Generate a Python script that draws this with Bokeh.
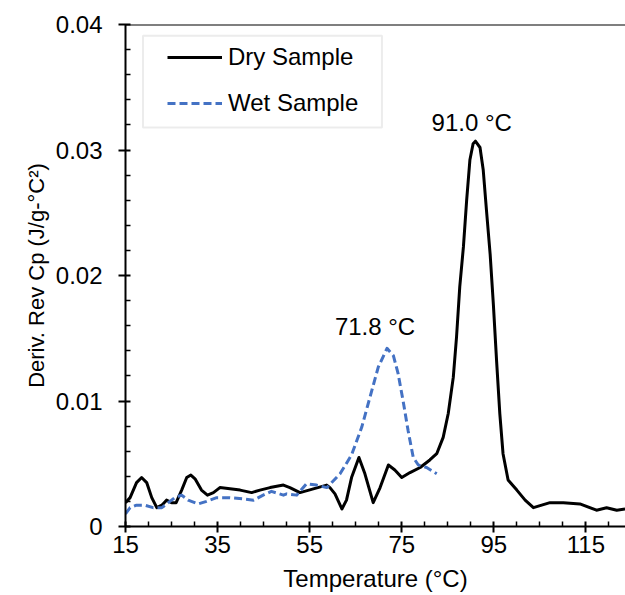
from bokeh.plotting import figure
from bokeh.models import (Legend, LegendItem, FixedTicker, CustomJSTickFormatter,
                          Span, BoxAnnotation, Range1d, Label)
from bokeh.embed import file_html
from bokeh.resources import INLINE

# ---- data ----
dry_temp = [15.0, 16.0, 17.4, 18.5, 19.6, 20.7, 21.8, 22.9, 23.9, 25.0, 26.0, 27.2, 28.3, 29.2,
            30.1, 31.5, 32.8, 34.1, 35.5, 37.7, 39.9, 42.4, 44.2, 46.4, 49.3, 50.7, 52.9, 55.8,
            58.7, 59.4, 60.5, 62.0, 63.0, 64.1, 65.7, 67.0, 68.8, 70.3, 72.1, 73.5, 75.0, 76.8,
            79.0, 81.1, 82.6, 84.0, 85.1, 86.2, 86.9, 87.6, 88.4, 89.1, 89.8, 90.5, 91.0, 92.0,
            92.7, 93.4, 94.2, 94.9, 95.6, 96.3, 97.0, 98.1, 100.0, 101.8, 103.6, 105.4, 107.2,
            110.1, 113.7, 117.3, 119.5, 121.7, 123.5]
dry_cp = [0.0019, 0.0023, 0.0035, 0.0039, 0.0035, 0.0023, 0.0015, 0.0017, 0.0021, 0.0019, 0.0019,
          0.0029, 0.0039, 0.0041, 0.0038, 0.0029, 0.0025, 0.0027, 0.0031, 0.0030, 0.0029, 0.0027,
          0.0029, 0.0031, 0.0033, 0.0031, 0.0027, 0.0030, 0.0033, 0.0031, 0.0026, 0.0014, 0.0021,
          0.0039, 0.0055, 0.0042, 0.0019, 0.0031, 0.0049, 0.0045, 0.0039, 0.0043, 0.0047, 0.0053,
          0.0058, 0.0071, 0.0090, 0.0119, 0.0151, 0.0191, 0.0223, 0.0260, 0.0292, 0.0305, 0.0307,
          0.0302, 0.0284, 0.0252, 0.0217, 0.0177, 0.0132, 0.0090, 0.0058, 0.0037, 0.0029, 0.0021,
          0.0015, 0.0017, 0.0019, 0.0019, 0.0018, 0.0013, 0.0015, 0.0013, 0.0014]

wet_temp = [15.0, 16.0, 17.4, 19.2, 21.0, 22.9, 24.3, 25.7, 27.2, 28.6, 30.8, 32.6, 34.8, 37.7,
            40.6, 42.8, 44.9, 46.7, 49.3, 50.0, 52.2, 54.3, 56.5, 58.7, 59.0, 61.6, 64.1, 66.3,
            68.1, 69.9, 71.8, 73.2, 74.2, 75.3, 76.4, 77.5, 78.6, 80.4, 82.6]
wet_cp = [0.0010, 0.0015, 0.0017, 0.0017, 0.0015, 0.0015, 0.0019, 0.0023, 0.0025, 0.0021, 0.0018,
          0.0020, 0.0023, 0.0023, 0.0022, 0.0021, 0.0025, 0.0028, 0.0025, 0.0026, 0.0025, 0.0034,
          0.0033, 0.0031, 0.0032, 0.0042, 0.0057, 0.0079, 0.0103, 0.0127, 0.0142, 0.0136, 0.0122,
          0.0100, 0.0076, 0.0055, 0.0049, 0.0047, 0.0042]

series_names = ["Dry Sample", "Wet Sample"]
x_major_ticks = [15, 35, 55, 75, 95, 115]
x_minor_ticks = [20, 25, 30, 40, 45, 50, 60, 65, 70, 80, 85, 90, 100, 105, 110, 120]
y_major_ticks = [0, 0.01, 0.02, 0.03, 0.04]
y_minor_ticks = [0.002, 0.004, 0.006, 0.008, 0.012, 0.014, 0.016, 0.018, 0.022, 0.024,
                 0.026, 0.028, 0.032, 0.034, 0.036, 0.038]
peak_labels = ["91.0 °C", "71.8 °C"]
x_title = "Temperature (°C)"
y_title = "Deriv. Rev Cp (J/g-°C²)"

FONT = "Liberation Sans"
FS = "24px"

p = figure(frame_width=500, frame_height=502, output_backend="svg", toolbar_location=None,
           x_range=Range1d(15, 123.6), y_range=Range1d(0, 0.04),
           min_border_left=125, min_border_top=24, min_border_right=0, min_border_bottom=0)
p.grid.visible = False
p.outline_line_color = None
p.background_fill_color = "white"
p.border_fill_color = "white"

r_dry = p.line(dry_temp, dry_cp, line_color="black", line_width=3, line_join="round")
r_wet = p.line(wet_temp, wet_cp, line_color="#4472C4", line_width=3, line_dash="8 4",
               line_join="round")

for ax in (p.xaxis[0], p.yaxis[0]):
    ax.axis_line_color = "black"
    ax.axis_line_width = 2
    ax.major_tick_line_color = "black"
    ax.major_tick_line_width = 2
    ax.minor_tick_line_color = "black"
    ax.minor_tick_line_width = 1.5
    ax.major_tick_in = 5
    ax.minor_tick_in = 5
    ax.minor_tick_out = 0
    ax.major_label_text_font = FONT
    ax.major_label_text_font_size = FS
    ax.major_label_text_color = "black"
    ax.axis_label_text_font = FONT
    ax.axis_label_text_font_size = FS
    ax.axis_label_text_font_style = "normal"
    ax.axis_label_text_color = "black"

xa = p.xaxis[0]
xa.ticker = FixedTicker(ticks=x_major_ticks, minor_ticks=x_minor_ticks)
xa.major_tick_out = 6
xa.major_label_standoff = 3
xa.axis_label = x_title
xa.axis_label_standoff = 9

ya = p.yaxis[0]
ya.ticker = FixedTicker(ticks=y_major_ticks, minor_ticks=y_minor_ticks)
ya.major_tick_out = 7
ya.major_label_standoff = 16
ya.formatter = CustomJSTickFormatter(code="return tick == 0 ? '0' : tick.toFixed(2);")
ya.axis_label = y_title
ya.axis_label_text_font_size = "22px"
ya.axis_label_standoff = 4

# top spine
p.add_layout(Span(location=0.04, dimension="width", line_color="black", line_width=2))

# legend frame
p.add_layout(BoxAnnotation(left=18.8, right=70.7, bottom=0.0318, top=0.0391,
                           fill_color="white", fill_alpha=1, line_color="#bfbfbf", line_width=2,
                           level="annotation"))

legend = Legend(items=[LegendItem(label=series_names[0], renderers=[r_dry]),
                       LegendItem(label=series_names[1], renderers=[r_wet])],
                location=(42, 409), padding=0, margin=0, spacing=18,
                glyph_width=55, glyph_height=26, label_height=26, label_standoff=6,
                border_line_color=None, background_fill_alpha=0,
                label_text_font=FONT, label_text_font_size=FS, label_text_color="black")
p.add_layout(legend)

p.add_layout(Label(x=90.2, y=0.0322, text=peak_labels[0], text_align="center",
                   text_baseline="alphabetic", text_font=FONT, text_font_size=FS, text_color="black"))
p.add_layout(Label(x=69.2, y=0.0159, text=peak_labels[1], text_align="center",
                   text_baseline="alphabetic", text_font=FONT, text_font_size=FS, text_color="black"))

open("out.html", "w").write(file_html(p, INLINE))
